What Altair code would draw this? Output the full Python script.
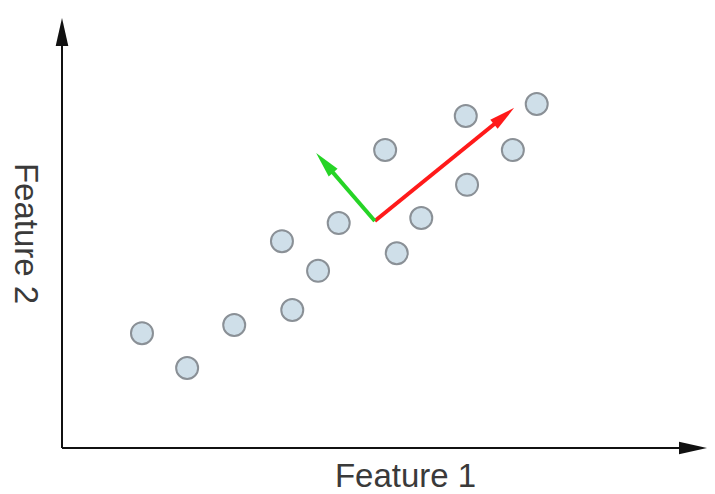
import math
import altair as alt
import pandas as pd

# ---- data ----
pt_x = [1.24, 1.94, 2.67, 3.57, 3.41, 3.97, 4.29, 5.01, 5.19, 5.57, 6.26, 6.28, 6.99, 7.36]
pt_y = [2.67, 1.86, 2.86, 3.21, 4.81, 4.12, 5.23, 6.93, 4.53, 5.35, 7.72, 6.12, 6.93, 8.00]

origin_x, origin_y = 4.85, 5.28
vec_names = ["PC1", "PC2"]
vec_dx = [2.16, -0.91]
vec_dy = [2.63, 1.58]
vec_colors = ["#ff1a1a", "#26d426"]

x_domain = [0, 10]
y_domain = [0, 10]

W, H = 645, 430
sx = W / (x_domain[1] - x_domain[0])
sy = H / (y_domain[1] - y_domain[0])

head_path = "M0,0 L-0.45,2 L0.45,2 Z"

points = pd.DataFrame({"x": pt_x, "y": pt_y})

vec_rows, head_rows = [], []
for n, dx, dy, c in zip(vec_names, vec_dx, vec_dy, vec_colors):
    L = math.hypot(dx * sx, dy * sy)
    f = max(0.0, (L - 14) / L)
    vec_rows.append({"x": origin_x, "y": origin_y, "x2": origin_x + dx * f,
                     "y2": origin_y + dy * f, "color": c})
    ang = math.degrees(math.atan2(dx * sx, dy * sy)) % 360
    head_rows.append({"x": origin_x + dx, "y": origin_y + dy, "angle": ang,
                      "color": c, "size": 676})
vectors = pd.DataFrame(vec_rows)

axis_lines = pd.DataFrame({
    "x": [x_domain[0], x_domain[0]], "y": [y_domain[0], y_domain[0]],
    "x2": [x_domain[1] - 0.2, x_domain[0]], "y2": [y_domain[0], y_domain[1] - 0.3],
})
head_rows.append({"x": x_domain[1], "y": y_domain[0], "angle": 90, "color": "#111111", "size": 784})
head_rows.append({"x": x_domain[0], "y": y_domain[1], "angle": 0, "color": "#111111", "size": 784})
heads = pd.DataFrame(head_rows)

xs = alt.Scale(domain=x_domain, nice=False, zero=False)
ys = alt.Scale(domain=y_domain, nice=False, zero=False)

x_axis = alt.Axis(domain=False, ticks=False, labels=False, grid=False, title="Feature 1",
                  titleFont="Liberation Sans", titleFontSize=33, titleFontWeight="normal",
                  titleColor="#3a3a3a", titleX=343, titleY=28, titleAlign="center",
                  titleBaseline="middle")
y_axis = alt.Axis(domain=False, ticks=False, labels=False, grid=False, title="Feature 2",
                  titleFont="Liberation Sans", titleFontSize=33, titleFontWeight="normal",
                  titleColor="#3a3a3a", titleX=-38, titleY=215, titleAngle=90,
                  titleAlign="center", titleBaseline="middle")

X = alt.X("x:Q", scale=xs, axis=x_axis)
Y = alt.Y("y:Q", scale=ys, axis=y_axis)

axes_layer = alt.Chart(axis_lines).mark_rule(color="#111111", strokeWidth=2).encode(
    x=X, y=Y, x2="x2:Q", y2="y2:Q")

pts_layer = alt.Chart(points).mark_circle(
    size=484, color="#cfdfe9", opacity=1, stroke="#8a9096", strokeWidth=2).encode(x=X, y=Y)

vec_layer = alt.Chart(vectors).mark_rule(strokeWidth=4).encode(
    x=X, y=Y, x2="x2:Q", y2="y2:Q", color=alt.Color("color:N", scale=None))

head_layer = alt.Chart(heads).mark_point(shape=head_path, filled=True, opacity=1, strokeWidth=0).encode(
    x=X, y=Y,
    angle=alt.Angle("angle:Q", scale=None),
    color=alt.Color("color:N", scale=None),
    size=alt.Size("size:Q", scale=None),
)

chart = alt.layer(axes_layer, pts_layer, vec_layer, head_layer).properties(
    width=W, height=H,
    padding={"left": 54, "top": 10, "right": 0, "bottom": 44},
    autosize=alt.AutoSizeParams(type="none"),
    background="white",
).configure_view(stroke=None)

chart.save("out.html", embed_options={"renderer": "svg", "actions": False})
